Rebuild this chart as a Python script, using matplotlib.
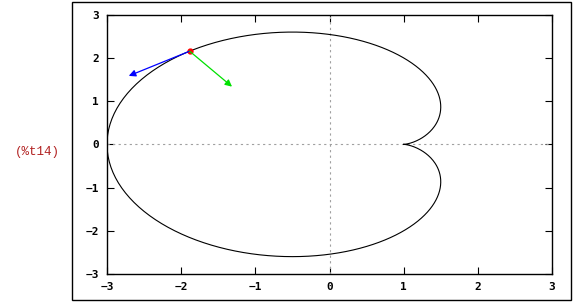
import numpy as np
import matplotlib.pyplot as plt
from matplotlib.patches import Rectangle

# cardioid x = a*cos(t) - cos(2t), y = a*sin(t) - sin(2t), as plotted by maxima
a = 2.0
t_range = (0.0, 2 * np.pi)
t0 = 2.5  # point where tangent and normal are drawn
ticks = [-3, -2, -1, 0, 1, 2, 3]
label = "(%t14)"

t = np.linspace(t_range[0], t_range[1], 400)
x = a * np.cos(t) - np.cos(2 * t)
y = a * np.sin(t) - np.sin(2 * t)

px = a * np.cos(t0) - np.cos(2 * t0)
py = a * np.sin(t0) - np.sin(2 * t0)
dx = -a * np.sin(t0) + 2 * np.sin(2 * t0)
dy = a * np.cos(t0) - 2 * np.cos(2 * t0)
n = np.hypot(dx, dy)
tx, ty = dx / n, dy / n
nx, ny = -ty, tx

fig = plt.figure(figsize=(5.74, 3.02), dpi=100)
fig.patches.append(Rectangle((72 / 574, 2 / 302), 499 / 574, 298 / 302,
                             transform=fig.transFigure, fill=False,
                             edgecolor='black', linewidth=1.0))
fig.text(37 / 574, 1 - 152 / 302, label, color='#b22222', ha='center', va='center',
         family='Liberation Mono', fontsize=9)

ax = fig.add_axes([107 / 574, 1 - 274 / 302, 445 / 574, 259.3 / 302])
ax.axhline(0, color='#a0a0a0', linestyle=(0, (2, 3)), linewidth=0.8)
ax.axvline(0, color='#a0a0a0', linestyle=(0, (2, 3)), linewidth=0.8)
ax.plot(x, y, color='black', linewidth=0.8)
ax.annotate('', xy=(px + tx, py + ty), xytext=(px, py),
            arrowprops=dict(arrowstyle='-|>', color='blue', lw=0.9,
                            mutation_scale=10, shrinkA=0, shrinkB=0))
ax.annotate('', xy=(px + nx, py + ny), xytext=(px, py),
            arrowprops=dict(arrowstyle='-|>', color='#00e000', lw=0.9,
                            mutation_scale=10, shrinkA=0, shrinkB=0))
ax.plot([px], [py], 'o', color='red', markersize=3.5)

ax.set_xlim(-3, 3)
ax.set_ylim(-3, 3)
ax.set_xticks(ticks)
ax.set_yticks(ticks)
ax.tick_params(direction='in', length=5, width=0.8, top=True, right=True,
               labelsize=8, pad=6)
for lab in ax.get_xticklabels() + ax.get_yticklabels():
    lab.set_family('DejaVu Sans Mono')
    lab.set_fontweight('bold')
for s in ax.spines.values():
    s.set_linewidth(1.0)

fig.savefig('out.png', dpi=100)
